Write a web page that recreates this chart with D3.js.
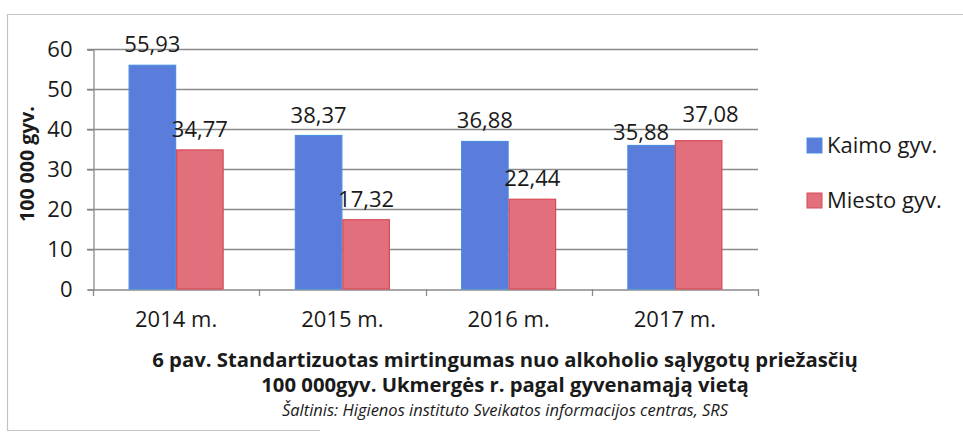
<!DOCTYPE html>
<html>
<head>
<meta charset="utf-8">
<script src="https://cdn.jsdelivr.net/npm/d3@7"></script>
<style>
  body { margin: 0; background: #fff; }
  text { font-family: "Open Sans", sans-serif; fill: #1a1a1a; }
</style>
</head>
<body>
<svg width="963" height="439"></svg>
<script>
// chart data
const years = ['2014 m.', '2015 m.', '2016 m.', '2017 m.'];
const seriesNames = ['Kaimo gyv.', 'Miesto gyv.'];
const kaimo = [55.93, 38.37, 36.88, 35.88];
const miesto = [34.77, 17.32, 22.44, 37.08];
const yTicks = [0, 10, 20, 30, 40, 50, 60];

const titleLines = [
  '6 pav. Standartizuotas mirtingumas nuo alkoholio sąlygotų priežasčių',
  '100 000gyv. Ukmergės r. pagal gyvenamąją vietą'
];
const sourceText = 'Šaltinis: Higienos instituto Sveikatos informacijos centras, SRS';
const yLabel = '100 000 gyv.';

const fills = ['#5a7ddc', '#e2707c'];
const strokes = ['#4a8ee0', '#d84a58'];

const svg = d3.select('svg');

// scanned frame
svg.append('path')
  .attr('d', 'M963,14.5 H7.5 V430.5 H320')
  .attr('fill', 'none')
  .attr('stroke', '#c4c4c4')
  .attr('stroke-width', 1.2);

const x = d3.scaleBand()
  .domain(years)
  .range([93, 758]);

const xSub = d3.scaleBand()
  .domain(seriesNames)
  .range([0, x.bandwidth()])
  .paddingOuter(0.75);

const y = d3.scaleLinear()
  .domain([0, 60])
  .range([289, 49]);

const rows = years.map((yr, i) => ({ year: yr, values: [kaimo[i], miesto[i]] }));

// gridlines
svg.append('g')
  .selectAll('line')
  .data(yTicks.filter(d => d > 0))
  .join('line')
    .attr('x1', 87)
    .attr('x2', 758)
    .attr('y1', d => Math.round(y(d)) + 0.5)
    .attr('y2', d => Math.round(y(d)) + 0.5)
    .attr('stroke', '#8a8a8a')
    .attr('stroke-width', 1.3);

// y axis
const yAxis = svg.append('g')
  .attr('transform', 'translate(93.5,0.5)')
  .call(d3.axisLeft(y).tickValues(yTicks).tickSize(6).tickPadding(15));
yAxis.select('.domain').attr('stroke', '#8a8a8a').attr('stroke-width', 1.3);
yAxis.selectAll('.tick line').attr('stroke', '#8a8a8a').attr('stroke-width', 1.3);
yAxis.selectAll('.tick text')
  .attr('font-size', 22)
  .attr('font-family', '"Open Sans", sans-serif')
  .attr('fill', '#1a1a1a');

// x axis
const xAxis = svg.append('g')
  .attr('transform', `translate(0,${y(0) + 0.5})`)
  .call(d3.axisBottom(x).tickSize(0).tickPadding(22));
xAxis.select('.domain').attr('stroke', '#8a8a8a').attr('stroke-width', 1.3);
xAxis.selectAll('.tick text')
  .attr('font-size', 22)
  .attr('font-family', '"Open Sans", sans-serif')
  .attr('fill', '#1a1a1a');

// category separators
svg.append('g')
  .selectAll('line')
  .data(years.map(d => x(d)).concat([x.range()[1]]))
  .join('line')
    .attr('x1', d => Math.round(d) + 0.5)
    .attr('x2', d => Math.round(d) + 0.5)
    .attr('y1', y(0))
    .attr('y2', y(0) + 7)
    .attr('stroke', '#8a8a8a')
    .attr('stroke-width', 1.3);

// bars
const groups = svg.append('g')
  .selectAll('g')
  .data(rows)
  .join('g')
    .attr('transform', d => `translate(${x(d.year)},0)`);

groups.selectAll('rect')
  .data(d => d.values.map((v, j) => ({ key: seriesNames[j], value: v, j })))
  .join('rect')
    .attr('x', d => xSub(d.key) + 0.5)
    .attr('y', d => y(d.value))
    .attr('width', xSub.bandwidth() - 1)
    .attr('height', d => y(0) - y(d.value))
    .attr('fill', d => fills[d.j])
    .attr('stroke', d => strokes[d.j])
    .attr('stroke-width', 1.2);

// value labels, pushed apart when the two bars are nearly the same height
const labelPos = d => {
  const [a, b] = d.values;
  return d.values.map((v, j) => {
    let ly = y(v) - 13, lx = xSub(seriesNames[j]) + xSub.bandwidth() / 2;
    if (Math.abs(y(a) - y(b)) < 20) {
      const higher = v === Math.max(a, b);
      ly = higher ? y(v) - 19 : y(v) - 5;
      lx += j === 0 ? -10 : 12;
    }
    return { value: v, lx, ly };
  });
};

groups.selectAll('text.val')
  .data(labelPos)
  .join('text')
    .attr('class', 'val')
    .attr('x', d => d.lx)
    .attr('y', d => d.ly)
    .attr('text-anchor', 'middle')
    .attr('font-size', 22)
    .text(d => d3.format('.2f')(d.value).replace('.', ','));

// legend
const legend = svg.append('g')
  .attr('transform', 'translate(807,138)');
const legendItems = legend.selectAll('g')
  .data(seriesNames)
  .join('g')
    .attr('transform', (d, i) => `translate(0,${i * 55})`);
legendItems.append('rect')
  .attr('width', 15)
  .attr('height', 15)
  .attr('fill', (d, i) => fills[i])
  .attr('stroke', (d, i) => strokes[i]);
legendItems.append('text')
  .attr('x', 20)
  .attr('y', 7.5)
  .attr('dy', '0.35em')
  .attr('font-size', 22)
  .text(d => d);

// y axis title
svg.append('text')
  .attr('transform', 'translate(34,164) rotate(-90)')
  .attr('text-anchor', 'middle')
  .attr('font-size', 19.5)
  .attr('font-weight', 'bold')
  .text(yLabel);

// figure caption
svg.append('g')
  .selectAll('text')
  .data(titleLines)
  .join('text')
    .attr('x', 505)
    .attr('y', (d, i) => 367 + i * 25)
    .attr('text-anchor', 'middle')
    .attr('font-size', 20.3)
    .attr('font-weight', 'bold')
    .text(d => d);

svg.append('text')
  .attr('x', 505)
  .attr('y', 416)
  .attr('text-anchor', 'middle')
  .attr('font-size', 16.5)
  .attr('font-style', 'italic')
  .text(sourceText);
</script>
</body>
</html>
